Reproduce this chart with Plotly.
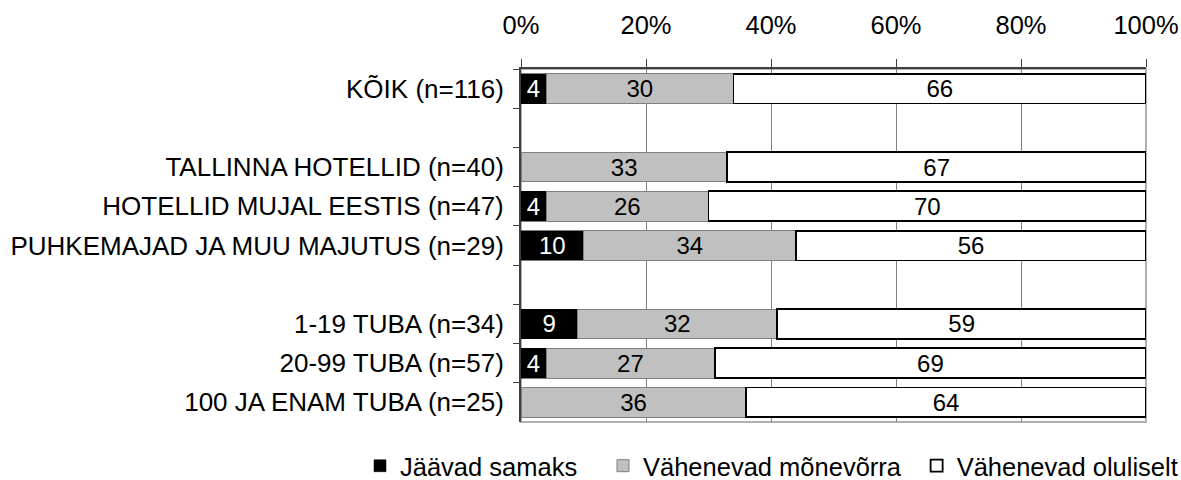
import plotly.graph_objects as go

# Categories (top to bottom); blank strings leave gap rows between groups
categories = [
    "KÕIK (n=116)",
    " ",
    "TALLINNA HOTELLID (n=40)",
    "HOTELLID MUJAL EESTIS (n=47)",
    "PUHKEMAJAD JA MUU MAJUTUS (n=29)",
    "  ",
    "1-19 TUBA (n=34)",
    "20-99 TUBA (n=57)",
    "100 JA ENAM TUBA (n=25)",
]

jaavad_samaks = [4, None, None, 4, 10, None, 9, 4, None]
vahenevad_monevorra = [30, None, 33, 26, 34, None, 32, 27, 36]
vahenevad_oluliselt = [66, None, 67, 70, 56, None, 59, 69, 64]

series_names = ["Jäävad samaks", "Vähenevad mõnevõrra", "Vähenevad oluliselt"]
tick_vals = [0, 20, 40, 60, 80, 100]
tick_text = ["0%", "20%", "40%", "60%", "80%", "100%"]

FONT = "Liberation Sans, Arial, sans-serif"
FS = 25.5

styles = [
    dict(fill="#000000", line="#000000", lw=0.5, txt="#ffffff"),
    dict(fill="#c0c0c0", line="#7f7f7f", lw=1, txt="#000000"),
    dict(fill="#ffffff", line="#000000", lw=1.8, txt="#000000"),
]

# one legend box per series so the entries can be spaced freely
legend_ids = ["legend", "legend2", "legend3"]
legend_x = [-0.2576, 0.1312, 0.633]

fig = go.Figure()
for name, vals, st, lid in zip(series_names,
                               [jaavad_samaks, vahenevad_monevorra, vahenevad_oluliselt],
                               styles, legend_ids):
    fig.add_trace(go.Bar(
        y=categories,
        x=vals,
        name=name,
        orientation="h",
        width=0.76,
        marker=dict(color=st["fill"], line=dict(color=st["line"], width=st["lw"])),
        text=[("" if v is None else str(v)) for v in vals],
        textposition="inside",
        insidetextanchor="middle",
        textangle=0,
        constraintext="none",
        textfont=dict(family=FONT, size=24, color=st["txt"]),
        hoverinfo="skip",
        legend=lid,
    ))

legend_common = dict(
    orientation="h",
    xanchor="left",
    y=-0.125,
    yanchor="middle",
    font=dict(family=FONT, size=FS, color="#000000"),
    itemwidth=30,
    bgcolor="rgba(0,0,0,0)",
)

fig.update_layout(
    barmode="stack",
    width=1181,
    height=480,
    margin=dict(l=521, r=35, t=69, b=58, autoexpand=False),
    paper_bgcolor="#ffffff",
    plot_bgcolor="#ffffff",
    font=dict(family=FONT, size=FS, color="#000000"),
    showlegend=True,
    legend=dict(x=legend_x[0], **legend_common),
    legend2=dict(x=legend_x[1], **legend_common),
    legend3=dict(x=legend_x[2], **legend_common),
    xaxis=dict(
        side="top",
        range=[0, 100],
        tickvals=tick_vals,
        ticktext=tick_text,
        showgrid=True,
        gridcolor="#808080",
        gridwidth=1,
        showline=True,
        linecolor="#404040",
        linewidth=2,
        ticks="outside",
        ticklen=8,
        tickcolor="#404040",
        ticklabelstandoff=15,
        zeroline=False,
        fixedrange=True,
    ),
    yaxis=dict(
        type="category",
        categoryorder="array",
        categoryarray=categories,
        autorange="reversed",
        showline=True,
        linecolor="#404040",
        linewidth=2,
        ticks="outside",
        ticklen=6,
        tickcolor="#404040",
        tickson="boundaries",
        ticklabelstandoff=10,
        tickfont=dict(family=FONT, size=26, color="#000000"),
        showgrid=False,
        fixedrange=True,
    ),
    shapes=[
        dict(type="rect", xref="x domain", yref="y domain",
             x0=0, x1=1, y0=0, y1=1,
             line=dict(color="#b0b0b0", width=2), layer="below"),
    ],
)

fig.write_html("out.html")
